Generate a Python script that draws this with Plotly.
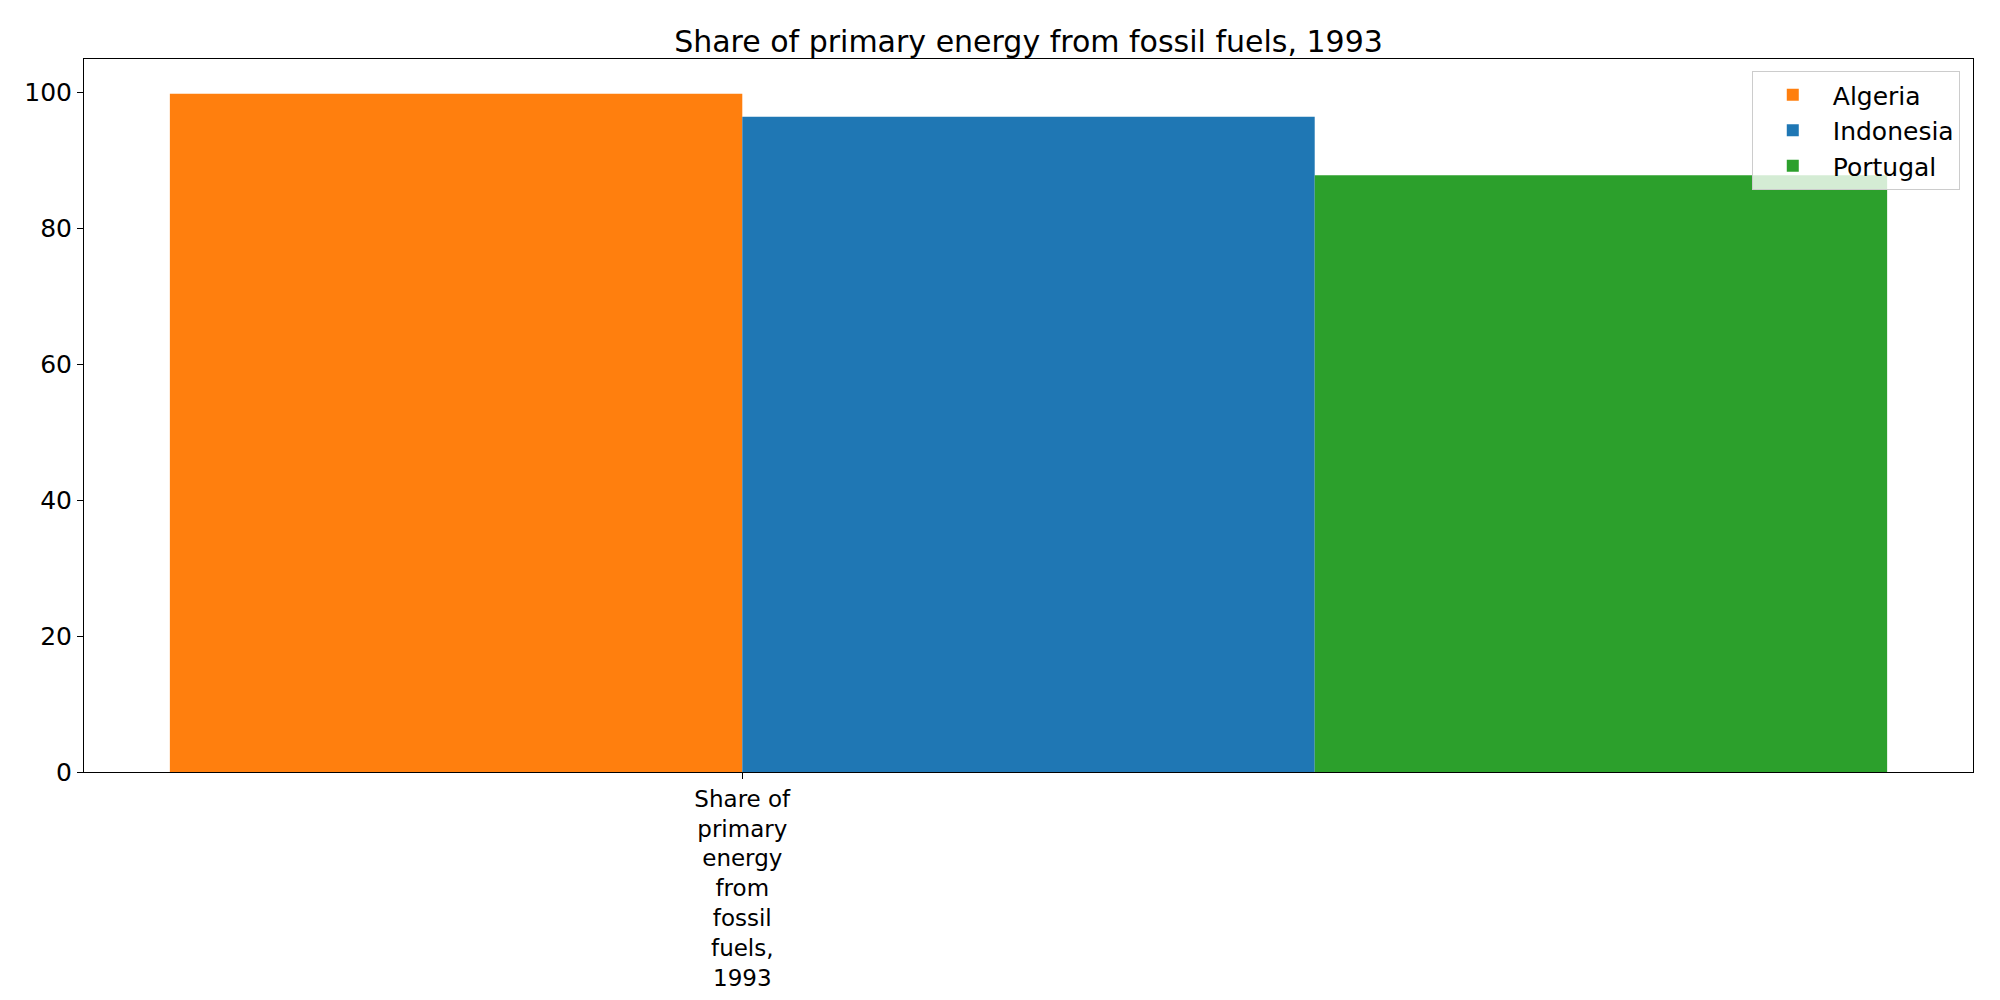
import plotly.graph_objects as go

countries = ["Algeria", "Indonesia", "Portugal"]
shares = [99.8, 96.4, 87.8]
colors = ["#ff7f0e", "#1f77b4", "#2ca02c"]
category = "Share of primary energy from fossil fuels, 1993"
category_label = "Share of<br>primary<br>energy<br>from<br>fossil<br>fuels,<br>1993"

fig = go.Figure()
for i, (name, val, col) in enumerate(zip(countries, shares, colors)):
    fig.add_trace(go.Bar(x=[0], y=[val], name=name, width=1, offset=i - 1,
                         marker=dict(color=col, line=dict(width=0))))

fig.update_layout(
    width=2000, height=1000,
    paper_bgcolor="white", plot_bgcolor="white",
    font=dict(family="DejaVu Sans", size=25, color="black"),
    title=dict(text=category, xref="paper", x=0.5, xanchor="center",
               y=0.967, yanchor="middle", font=dict(size=30)),
    margin=dict(l=76, r=35, t=51, b=236),
    barmode="overlay",
    legend=dict(x=0.993, y=0.983, xanchor="right", yanchor="top",
                bgcolor="rgba(255,255,255,0.8)", bordercolor="#cccccc", borderwidth=1,
                itemwidth=70, font=dict(size=25)),
)
fig.update_xaxes(range=[-1.15, 2.15], tickvals=[0], ticktext=[category_label],
                 tickfont=dict(size=23),
                 showline=True, linecolor="black", linewidth=1, mirror=True,
                 ticks="outside", ticklen=6, tickcolor="black", showgrid=False, zeroline=False)
fig.update_yaxes(range=[0, 104.9], tickvals=[0, 20, 40, 60, 80, 100],
                 showline=True, linecolor="black", linewidth=1, mirror=True,
                 ticks="outside", ticklen=6, tickcolor="black", showgrid=False, zeroline=False)

fig.write_html("out.html")
